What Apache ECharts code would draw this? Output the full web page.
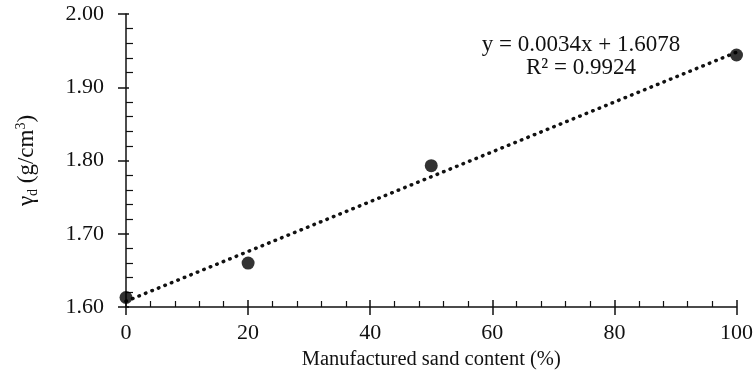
<!DOCTYPE html>
<html>
<head>
<meta charset="utf-8">
<script src="https://cdn.jsdelivr.net/npm/echarts@6/dist/echarts.min.js"></script>
<style>
  html, body { margin: 0; padding: 0; background: #fff; }
  #chart { width: 756px; height: 375px; }
</style>
</head>
<body>
<div id="chart"></div>
<script>
// measured points
const sandContent = [0, 20, 50, 100]
const dryDensity = [1.613, 1.660, 1.793, 1.944]
// linear fit y = 0.0034x + 1.6078, endpoints
const trendX = [0, 100]
const trendY = [1.6078, 1.9478]
const equationText = 'y = 0.0034x + 1.6078'
const r2Text = 'R\u00b2 = 0.9924'

const FONT = '"Liberation Serif", "Times New Roman", serif'
const INK = '#111'

const chart = echarts.init(document.getElementById('chart'))

const baseX = {
  type: 'value', min: 0, max: 100, interval: 20,
  position: 'bottom', gridIndex: 0,
  splitLine: { show: false },
}
const baseY = {
  type: 'value', min: 1.6, max: 2.0, interval: 0.1,
  position: 'left', gridIndex: 0,
  splitLine: { show: false },
}

const options = {
  animation: false,
  backgroundColor: '#fff',
  grid: { left: 126, right: 19, top: 14, bottom: 68 },
  xAxis: [
    {
      ...baseX,
      name: 'Manufactured sand content (%)',
      nameLocation: 'middle',
      nameGap: 40,
      nameTextStyle: { fontFamily: FONT, fontSize: 20.5, color: INK },
      axisLine: { lineStyle: { color: INK, width: 1.5 } },
      axisTick: { inside: false, length: 8, lineStyle: { color: INK, width: 1.5 } },
      axisLabel: { margin: 15, fontFamily: FONT, fontSize: 22, color: INK },
    },
    {
      ...baseX,
      axisLine: { show: false },
      axisLabel: { show: false },
      axisTick: { inside: true, length: 7, lineStyle: { color: INK, width: 1.5 } },
      minorTick: { show: true, splitNumber: 5, length: 6, lineStyle: { color: INK, width: 1.2 } },
    },
  ],
  yAxis: [
    {
      ...baseY,
      name: '{g|γ}{sub|d}{g| (g/cm}{sup|3}{g|)}',
      nameLocation: 'middle',
      nameRotate: 90,
      nameGap: 86,
      nameTextStyle: {
        fontFamily: FONT, fontSize: 23, color: INK,
        rich: {
          g: { fontFamily: FONT, fontSize: 23, color: INK, lineHeight: 26, verticalAlign: 'middle' },
          sub: { fontFamily: FONT, fontSize: 14, color: INK, verticalAlign: 'bottom', lineHeight: 26, padding: [6, 0, 0, 0] },
          sup: { fontFamily: FONT, fontSize: 14, color: INK, verticalAlign: 'top', lineHeight: 26 },
        },
      },
      axisLine: { lineStyle: { color: INK, width: 1.5 } },
      axisTick: { inside: false, length: 8, lineStyle: { color: INK, width: 1.5 } },
      axisLabel: {
        margin: 22, fontFamily: FONT, fontSize: 22, color: INK,
        formatter: (v) => v.toFixed(2),
      },
    },
    {
      ...baseY,
      axisLine: { show: false },
      axisLabel: { show: false },
      axisTick: { inside: true, length: 3, lineStyle: { color: INK, width: 1.5 } },
      minorTick: { show: true, splitNumber: 5, length: 7, lineStyle: { color: INK, width: 1.2 } },
    },
  ],
  graphic: [
    {
      type: 'text', x: 581, y: 45,
      style: { text: equationText, fontFamily: FONT, fontSize: 23, fill: INK, align: 'center', verticalAlign: 'middle' },
    },
    {
      type: 'text', x: 581, y: 68,
      style: { text: r2Text, fontFamily: FONT, fontSize: 23, fill: INK, align: 'center', verticalAlign: 'middle' },
    },
  ],
  series: [
    {
      type: 'line',
      xAxisIndex: 0, yAxisIndex: 0,
      data: trendX.map((x, i) => [x, trendY[i]]),
      showSymbol: false,
      symbol: 'none',
      lineStyle: { color: INK, width: 3.5, type: [0.5, 6.5], cap: 'round' },
      z: 2,
    },
    {
      type: 'scatter',
      xAxisIndex: 0, yAxisIndex: 0,
      data: sandContent.map((x, i) => [x, dryDensity[i]]),
      symbol: 'circle',
      symbolSize: 13,
      itemStyle: { color: '#000' },
      z: 3,
    },
  ],
}

chart.setOption(options)
</script>
</body>
</html>
